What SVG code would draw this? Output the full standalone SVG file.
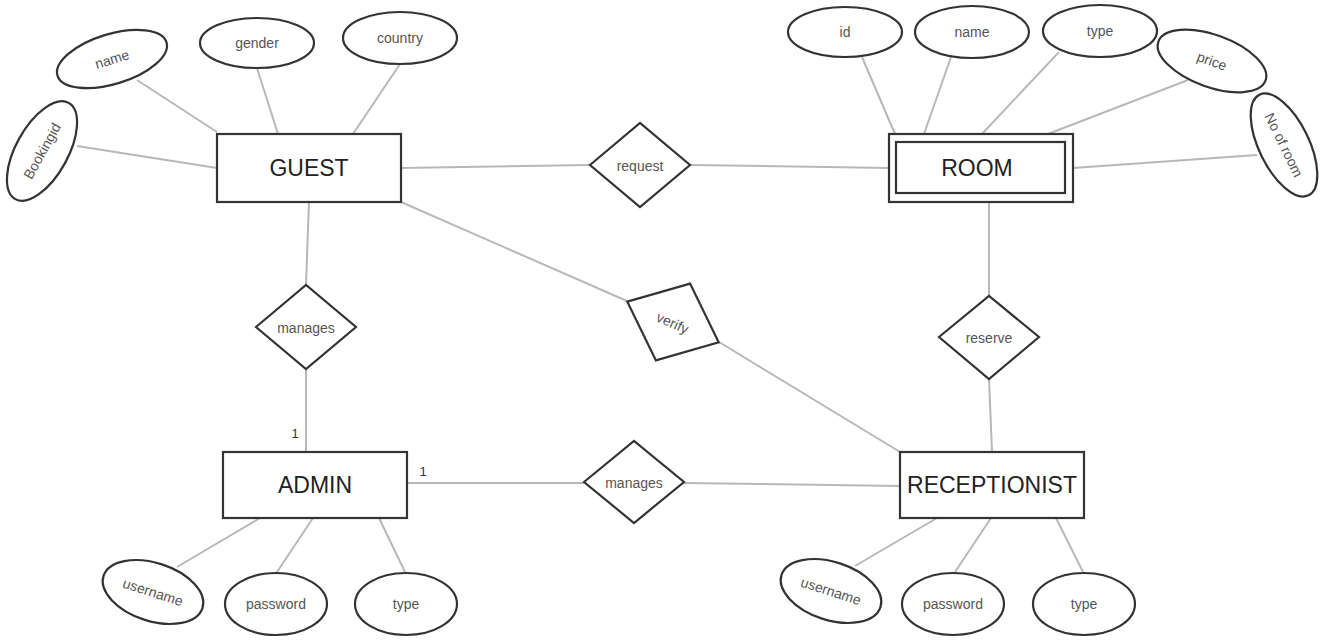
<svg xmlns="http://www.w3.org/2000/svg" width="1324" height="640" viewBox="0 0 1324 640">
<style>
.bg{fill:#ffffff}
.ent{fill:#ffffff;stroke:#333333;stroke-width:2.2}
.rel{fill:#ffffff;stroke:#333333;stroke-width:2.2}
.attr{fill:#ffffff;stroke:#333333;stroke-width:2.2}
.con line{stroke:#b8b8b8;stroke-width:2}
.et{font-family:"Liberation Sans",Arial,sans-serif;font-size:23px;fill:#222222;text-anchor:middle;dominant-baseline:central}
.at{font-family:"Liberation Sans",Arial,sans-serif;font-size:14px;fill:#555555;text-anchor:middle;dominant-baseline:central}
.rt{font-family:"Liberation Sans",Arial,sans-serif;font-size:14px;fill:#555555;text-anchor:middle;dominant-baseline:central}
.card{font-family:"Liberation Sans",Arial,sans-serif;font-size:13px;fill:#333333;text-anchor:middle;dominant-baseline:central}
</style>
<rect class="bg" x="0" y="0" width="1324" height="640"/>
<g id="connectors" class="con">
<line x1="137" y1="80" x2="217" y2="132"/>
<line x1="257" y1="68" x2="278" y2="134"/>
<line x1="400" y1="64" x2="353" y2="134"/>
<line x1="77" y1="146" x2="217" y2="168"/>
<line x1="401" y1="168" x2="590" y2="165"/>
<line x1="690" y1="165" x2="889" y2="168"/>
<line x1="309" y1="202" x2="306" y2="285"/>
<line x1="306" y1="369" x2="306" y2="452"/>
<line x1="401" y1="202" x2="627" y2="301"/>
<line x1="719" y1="342" x2="900" y2="452"/>
<line x1="407" y1="483" x2="584" y2="483"/>
<line x1="684" y1="483" x2="900" y2="486"/>
<line x1="989" y1="202" x2="989" y2="296"/>
<line x1="989" y1="379" x2="992" y2="452"/>
<line x1="862" y1="57" x2="895" y2="134"/>
<line x1="951" y1="57" x2="924" y2="134"/>
<line x1="1059" y1="52" x2="982" y2="134"/>
<line x1="1188" y1="80" x2="1048" y2="134"/>
<line x1="1257" y1="155" x2="1073" y2="168"/>
<line x1="177" y1="567" x2="260" y2="518"/>
<line x1="277" y1="572" x2="313" y2="518"/>
<line x1="405" y1="572" x2="379" y2="518"/>
<line x1="855" y1="566" x2="937" y2="518"/>
<line x1="955" y1="572" x2="991" y2="518"/>
<line x1="1083" y1="572" x2="1056" y2="518"/>
</g>
<g id="guest">
<rect class="ent" x="217" y="134" width="184" height="68"/>
<text class="et" x="309" y="168">GUEST</text>
</g>
<g id="room">
<rect class="ent" x="889" y="134" width="184" height="68"/>
<rect class="ent" x="896" y="142" width="169" height="51"/>
<text class="et" x="977" y="168">ROOM</text>
</g>
<g id="admin">
<rect class="ent" x="223" y="452" width="184" height="66"/>
<text class="et" x="315" y="485">ADMIN</text>
</g>
<g id="receptionist">
<rect class="ent" x="900" y="452" width="184" height="66"/>
<text class="et" x="992" y="485">RECEPTIONIST</text>
</g>
<g id="request">
<polygon class="rel" points="590,165 640,123 690,165 640,207"/>
<text class="rt" x="640" y="166">request</text>
</g>
<g id="manages1">
<polygon class="rel" points="256,327 306,285 356,327 306,369"/>
<text class="rt" x="306" y="328">manages</text>
</g>
<g id="verify">
<g transform="rotate(24 673 322)">
<polygon class="rel" points="623,322 673,280 723,322 673,364"/>
<text class="rt" x="673" y="323">verify</text>
</g>
</g>
<g id="reserve">
<polygon class="rel" points="939,337 989,296 1039,337 989,379"/>
<text class="rt" x="989" y="338">reserve</text>
</g>
<g id="manages2">
<polygon class="rel" points="584,482 634,441 684,482 634,523"/>
<text class="rt" x="634" y="483">manages</text>
</g>
<g id="guest-name">
<ellipse class="attr" cx="112" cy="59" rx="57" ry="25" transform="rotate(-17 112 59)"/>
<text class="at" x="112" y="59" transform="rotate(-17 112 59)">name</text>
</g>
<g id="guest-gender">
<ellipse class="attr" cx="257" cy="43" rx="57" ry="25"/>
<text class="at" x="257" y="43">gender</text>
</g>
<g id="guest-country">
<ellipse class="attr" cx="400" cy="38" rx="57" ry="26"/>
<text class="at" x="400" y="38">country</text>
</g>
<g id="guest-bookingid">
<ellipse class="attr" cx="42" cy="151" rx="55" ry="26" transform="rotate(-61 42 151)"/>
<text class="at" x="42" y="151" transform="rotate(-61 42 151)">Bookingid</text>
</g>
<g id="room-id">
<ellipse class="attr" cx="845" cy="32" rx="57" ry="25"/>
<text class="at" x="845" y="32">id</text>
</g>
<g id="room-name">
<ellipse class="attr" cx="972" cy="32" rx="57" ry="26"/>
<text class="at" x="972" y="32">name</text>
</g>
<g id="room-type">
<ellipse class="attr" cx="1100" cy="31" rx="57" ry="26"/>
<text class="at" x="1100" y="31">type</text>
</g>
<g id="room-price">
<ellipse class="attr" cx="1212" cy="61" rx="57" ry="26" transform="rotate(20 1212 61)"/>
<text class="at" x="1212" y="61" transform="rotate(20 1212 61)">price</text>
</g>
<g id="room-noofroom">
<ellipse class="attr" cx="1284" cy="145" rx="56" ry="25" transform="rotate(64 1284 145)"/>
<text class="at" x="1284" y="145" transform="rotate(64 1284 145)">No of room</text>
</g>
<g id="admin-username">
<ellipse class="attr" cx="153" cy="592" rx="52" ry="29" transform="rotate(18 153 592)"/>
<text class="at" x="153" y="592" transform="rotate(18 153 592)">username</text>
</g>
<g id="admin-password">
<ellipse class="attr" cx="276" cy="604" rx="51" ry="31"/>
<text class="at" x="276" y="604">password</text>
</g>
<g id="admin-type">
<ellipse class="attr" cx="406" cy="604" rx="51" ry="31"/>
<text class="at" x="406" y="604">type</text>
</g>
<g id="recep-username">
<ellipse class="attr" cx="831" cy="591" rx="52" ry="29" transform="rotate(18 831 591)"/>
<text class="at" x="831" y="591" transform="rotate(18 831 591)">username</text>
</g>
<g id="recep-password">
<ellipse class="attr" cx="953" cy="604" rx="51" ry="31"/>
<text class="at" x="953" y="604">password</text>
</g>
<g id="recep-type">
<ellipse class="attr" cx="1084" cy="604" rx="51" ry="31"/>
<text class="at" x="1084" y="604">type</text>
</g>
<g id="cardinalities">
<text class="card" x="295" y="433">1</text>
<text class="card" x="423" y="471">1</text>
</g>
</svg>
